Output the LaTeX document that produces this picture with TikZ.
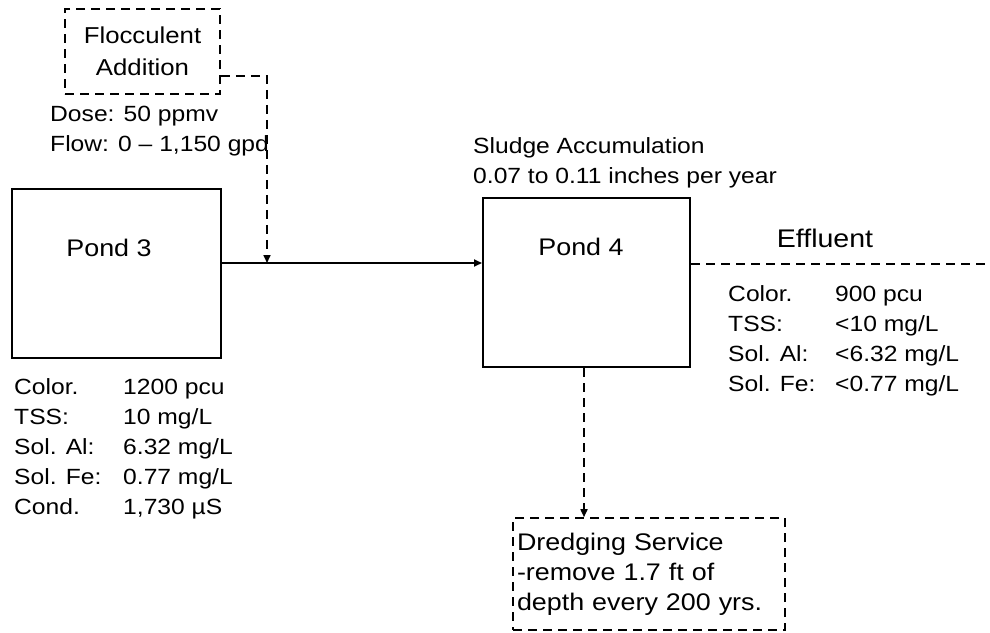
\documentclass[tikz,border=0pt]{standalone}
\usepackage{fontspec}
\setmainfont{Liberation Sans}[FakeStretch=1.12]
\usetikzlibrary{arrows.meta, positioning}
\tikzstyle{pond} = [rectangle, draw=black, line width=2pt, minimum width=209pt, minimum height=169pt]
\tikzstyle{service} = [rectangle, draw=black, line width=1.6pt, dash pattern=on 9pt off 6pt]
\tikzstyle{txt} = [inner sep=0pt, align=left, font=\fontsize{22}{30}\selectfont]
\tikzstyle{pondtxt} = [inner sep=0pt, font=\fontsize{24}{28}\selectfont]
\tikzstyle{arrow} = [line width=1.8pt, -{Triangle[length=8pt,width=7pt]}]
\tikzstyle{dashed_arrow} = [line width=1.6pt, dash pattern=on 9pt off 6pt, -{Triangle[length=8pt,width=7pt]}]
\tikzstyle{dashed_line} = [line width=1.6pt, dash pattern=on 9pt off 6pt]

\begin{document}
\begin{tikzpicture}[x=1pt, y=-1pt]
    \useasboundingbox (0,0) rectangle (990,632);

    \node (floc) [service, minimum width=155pt, minimum height=85pt, align=center, font=\fontsize{23}{32}\selectfont] at (142.5,51.5) {Flocculent\\Addition};
    \node (dose) [txt, anchor=base west] at (50,151) {Dose: 50 ppmv\\Flow: 0 -- 1,150 gpd};

    \node (pond3) [pond] at (116.5,273.5) {};
    \node (pond3txt) [pondtxt] at (109,248) {Pond 3};
    \node (pond4) [pond, minimum width=207pt] at (586.5,282.5) {};
    \node (pond4txt) [pondtxt] at (581,247) {Pond 4};

    \node (sludge) [txt, anchor=base west] at (473,183) {Sludge Accumulation\\0.07 to 0.11 inches per year};
    \node (effluent) [pondtxt, font=\fontsize{25.5}{28}\selectfont] at (825,238) {Effluent};

    % water quality tables (base = last line)
    \node (inkey) [txt, anchor=base west] at (14,514) {Color.\\TSS:\\Sol. Al:\\Sol. Fe:\\Cond.};
    \node (inval) [txt, anchor=base west] at (123,514) {1200 pcu\\10 mg/L\\6.32 mg/L\\0.77 mg/L\\1,730 µS};
    \node (outkey) [txt, anchor=base west] at (728,391) {Color.\\TSS:\\Sol. Al:\\Sol. Fe:};
    \node (outval) [txt, anchor=base west] at (835,391) {900 pcu\\<10 mg/L\\<6.32 mg/L\\<0.77 mg/L};

    \node (dredge) [service, minimum width=272pt, minimum height=112pt, text width=264pt, inner xsep=4pt, align=left, font=\fontsize{24}{30}\selectfont] at (649,574) {Dredging Service\\-remove 1.7 ft of\\depth every 200 yrs.};

    \coordinate (join) at (267,263);
    \coordinate (effout) at (990,264);

    \draw [arrow] (join -| pond3.east) -- (join -| pond4.west);
    \draw [dashed_arrow] ([yshift=-24.5pt]floc.east) -| (join);
    \draw [dashed_line] (effout -| pond4.east) -- (effout);
    \draw [dashed_arrow] ([xshift=-2.5pt]pond4.south) -- ([xshift=-2.5pt]pond4.south |- dredge.north);

\end{tikzpicture}
\end{document}
